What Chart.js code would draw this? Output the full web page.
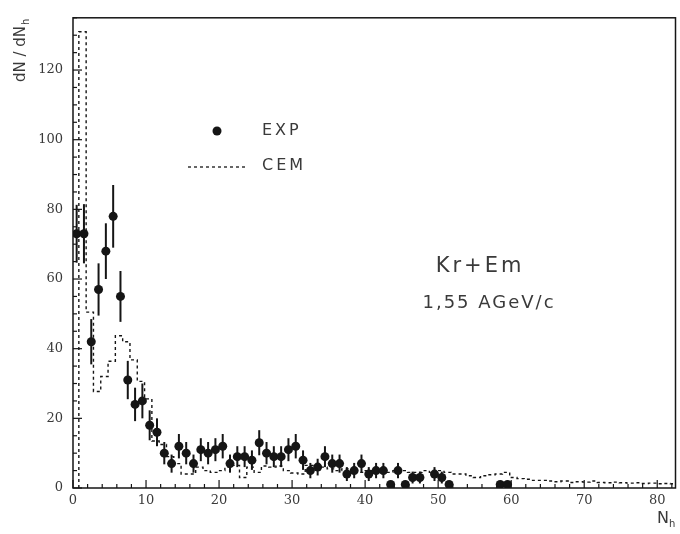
<!DOCTYPE html>
<html lang="en">
<head>
<meta charset="UTF-8">
<title>Kr+Em dN/dNh</title>
<style>
  html, body { margin: 0; padding: 0; background: #fff; }
  #wrap { width: 680px; height: 534px; }
</style>
</head>
<body>
<div id="wrap"><canvas id="chart" width="680" height="534"></canvas></div>
<script src="https://cdn.jsdelivr.net/npm/chart.js"></script>
<script>
// experimental points (bin centres)
const expNh = [0.5,1.5,2.5,3.5,4.5,5.5,6.5,7.5,8.5,9.5,10.5,11.5,12.5,13.5,14.5,15.5,16.5,17.5,18.5,19.5,
  20.5,21.5,22.5,23.5,24.5,25.5,26.5,27.5,28.5,29.5,30.5,31.5,32.5,33.5,34.5,35.5,36.5,37.5,38.5,39.5,
  40.5,41.5,42.5,43.5,44.5,45.5,46.5,47.5,49.5,50.5,51.5,58.5,59.5];
const expVal = [73,73,42,57,68,78,55,31,24,25, 18,16,10,7,12,10,7,11,10,11,
  12,7,9,9,8,13,10,9,9,11, 12,8,5,6,9,7,7,4,5,7,
  4,5,5,1,5,1,3,3, 4,3,1,1,1];
const expErr = [8.3,8.5,6.5,7.5,8,9,7.3,5.5,4.8,5, 4.3,4,3.2,2.6,3.5,3.2,2.6,3.3,3.2,3.3,
  3.5,2.6,3,3,2.8,3.6,3.2,3,3,3.3, 3.5,2.8,2.2,2.4,3,2.6,2.6,2,2.2,2.6,
  2,2.2,2.2,1,2.2,1,1.7,1.7, 2,1.7,1,1,1];

// CEM histogram, one value per unit bin starting at cemStart
const cemStart = 0.8;
const cemVal = [131,50.5,27.7,32,36.4,43.7,42,36.8,30.6,25.6,
  13.5,12.5,9,7,4,4,6,5,4.5,5,
  6,6.5,3,6,4.5,6.3,6,6.3,5,4.3,
  4,6.5,6.5,6,5.5,5,5.5,4.5,4.5,5,
  5,5,4.5,5,5,4.5,4.5,5,4.5,5,
  4.5,4,4,3.5,3,3.5,3.8,4,4.5,3,
  2.7,2.5,2.2,2.2,2,1.8,2,1.6,1.8,1.7,
  2,1.6,1.5,1.7,1.5,1.4,1.5,1.3,1.4,1.2,
  1.3,1.2];

const xTicks = [0,10,20,30,40,50,60,70,80];
const yTicks = [0,20,40,60,80,100,120];

const ink = '#151515';
const textCol = '#3a3a3a';

const cemPts = [{x: cemStart, y: 0}];
cemVal.forEach((v, i) => cemPts.push({x: cemStart + i, y: v}));
cemPts.push({x: cemStart + cemVal.length, y: cemVal[cemVal.length - 1]});

const expPts = expNh.map((x, i) => ({x: x, y: expVal[i]}));

const extras = {
  id: 'extras',
  beforeDatasetsDraw(chart) {
    const {ctx, scales: {x, y}} = chart;
    ctx.save();
    ctx.strokeStyle = ink;
    ctx.lineWidth = 2;
    expPts.forEach((p, i) => {
      const px = x.getPixelForValue(p.x);
      const top = y.getPixelForValue(Math.min(p.y + expErr[i], y.max));
      const bot = y.getPixelForValue(Math.max(p.y - expErr[i], 0));
      ctx.beginPath();
      ctx.moveTo(px, top);
      ctx.lineTo(px, bot);
      ctx.stroke();
    });
    ctx.restore();
  },
  afterDraw(chart) {
    const {ctx, chartArea: a, scales: {x, y}} = chart;
    ctx.save();
    // frame
    ctx.strokeStyle = ink;
    ctx.lineWidth = 1.5;
    ctx.strokeRect(a.left, a.top, a.right - a.left, a.bottom - a.top);
    // inward ticks
    ctx.lineWidth = 1.2;
    for (let v = 0; v <= x.max; v += 2) {
      const px = x.getPixelForValue(v);
      const len = v % 10 === 0 ? 8 : 4;
      ctx.beginPath(); ctx.moveTo(px, a.bottom); ctx.lineTo(px, a.bottom - len); ctx.stroke();
    }
    for (let v = 0; v <= y.max; v += 5) {
      const py = y.getPixelForValue(v);
      const len = v % 20 === 0 ? 9 : 4;
      ctx.beginPath(); ctx.moveTo(a.left, py); ctx.lineTo(a.left + len, py); ctx.stroke();
    }

    // legend
    ctx.fillStyle = ink;
    ctx.beginPath(); ctx.arc(217, 131, 4.5, 0, Math.PI * 2); ctx.fill();
    ctx.setLineDash([3, 3]);
    ctx.lineWidth = 1.3;
    ctx.beginPath(); ctx.moveTo(188, 167); ctx.lineTo(248, 167); ctx.stroke();
    ctx.setLineDash([]);
    ctx.fillStyle = textCol;
    ctx.textBaseline = 'middle';
    ctx.textAlign = 'left';
    ctx.font = '16px "DejaVu Sans"';
    ctx.letterSpacing = '3px';
    ctx.fillText('EXP', 262, 131);
    ctx.fillText('CEM', 262, 166);

    // reaction label
    ctx.textAlign = 'center';
    ctx.font = '21px "DejaVu Sans"';
    ctx.letterSpacing = '3px';
    ctx.fillText('Kr+Em', 480, 267);
    ctx.font = '18px "DejaVu Sans"';
    ctx.letterSpacing = '2px';
    ctx.fillText('1,55 AGeV/c', 489, 303);
    ctx.letterSpacing = '0px';

    // axis titles
    ctx.textAlign = 'left';
    ctx.font = '15px "DejaVu Sans"';
    ctx.save();
    ctx.translate(21, 82);
    ctx.rotate(-Math.PI / 2);
    ctx.fillText('dN / dN', 0, 0);
    const w = ctx.measureText('dN / dN').width;
    ctx.font = '10px "DejaVu Sans"';
    ctx.fillText('h', w + 1, 5);
    ctx.restore();

    ctx.font = '16px "DejaVu Sans"';
    ctx.fillText('N', 657, 519);
    ctx.font = '10px "DejaVu Sans"';
    ctx.fillText('h', 669, 524);
    ctx.restore();
  }
};

new Chart(document.getElementById('chart'), {
  type: 'scatter',
  data: {
    datasets: [
      {
        label: 'EXP',
        data: expPts,
        pointRadius: 4.5,
        pointHoverRadius: 4.5,
        pointBackgroundColor: ink,
        pointBorderColor: ink,
        pointBorderWidth: 0,
        showLine: false,
        order: 1
      },
      {
        label: 'CEM',
        type: 'line',
        data: cemPts,
        stepped: 'before',
        borderColor: ink,
        borderWidth: 1.4,
        borderDash: [3, 3],
        pointRadius: 0,
        fill: false,
        order: 2
      }
    ]
  },
  options: {
    responsive: false,
    animation: false,
    events: [],
    layout: { padding: { top: 7, right: 4, left: 0, bottom: 0 } },
    plugins: { legend: { display: false }, tooltip: { enabled: false } },
    scales: {
      x: {
        type: 'linear',
        min: 0,
        max: 82.5,
        afterFit: s => { s.height = 46; },
        afterBuildTicks: s => { s.ticks = xTicks.map(v => ({value: v})); },
        grid: { display: false, drawTicks: false },
        border: { display: false },
        ticks: { padding: 5, color: textCol, maxRotation: 0, font: { family: 'DejaVu Serif', size: 13 } }
      },
      y: {
        min: 0,
        max: 135,
        afterFit: s => { s.width = 73; },
        afterBuildTicks: s => { s.ticks = yTicks.map(v => ({value: v})); },
        grid: { display: false, drawTicks: false },
        border: { display: false },
        ticks: { padding: 10, color: textCol, font: { family: 'DejaVu Serif', size: 13 } }
      }
    }
  },
  plugins: [extras]
});
</script>
</body>
</html>
